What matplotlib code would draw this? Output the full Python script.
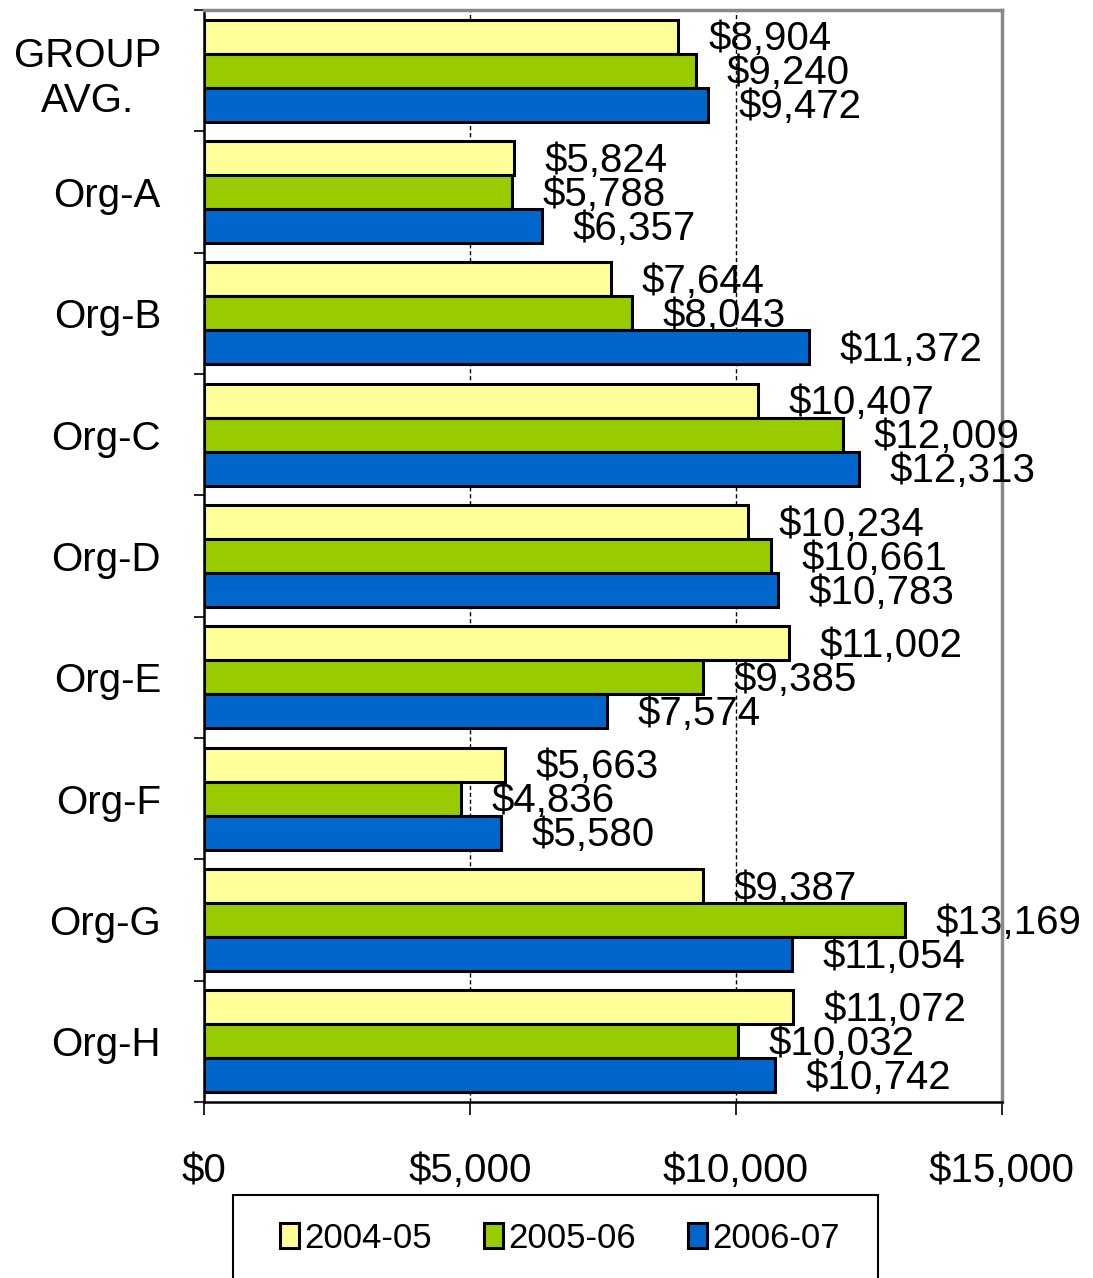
import numpy as np
import matplotlib.pyplot as plt
from matplotlib.patches import Rectangle, Patch
from matplotlib.ticker import FuncFormatter

plt.rcParams['font.family'] = ['Liberation Sans', 'DejaVu Sans']

# Data
orgs = ['GROUP\nAVG.', 'Org-A', 'Org-B', 'Org-C', 'Org-D', 'Org-E', 'Org-F', 'Org-G', 'Org-H']
years = ['2004-05', '2005-06', '2006-07']
y2004 = [8904, 5824, 7644, 10407, 10234, 11002, 5663, 9387, 11072]
y2005 = [9240, 5788, 8043, 12009, 10661, 9385, 4836, 13169, 10032]
y2006 = [9472, 6357, 11372, 12313, 10783, 7574, 5580, 11054, 10742]
colors = ['#FFFF99', '#99CC00', '#0066CC']

fig = plt.figure(figsize=(10.93, 12.78), dpi=100)
ax = fig.add_axes([0.1866, 0.1377, 0.7301, 0.8545])

pos = np.arange(len(orgs))
h = 0.28
for k, (vals, c) in enumerate(zip([y2004, y2005, y2006], colors)):
    offs = (k - 1) * h
    bars = ax.barh(pos + offs, vals, height=h, color=c, edgecolor='black',
                   linewidth=2.2, zorder=3)
    for b, v in zip(bars, vals):
        ax.annotate(f'${v:,}', (v, b.get_y() + b.get_height() / 2),
                    xytext=(22, -2), textcoords='offset points',
                    va='center', ha='left', fontsize=29, zorder=4)

ax.set_xlim(0, 15000)
ax.set_ylim(len(orgs) - 0.5, -0.5)
ax.set_xticks([0, 5000, 10000, 15000])
ax.xaxis.set_major_formatter(FuncFormatter(lambda x, p: f'${x:,.0f}'))
ax.tick_params(axis='x', direction='out', length=9, width=1.2, pad=27,
               labelsize=29)

ax.set_yticks(pos)
ax.set_yticklabels(orgs, multialignment='center', linespacing=1.25)
ax.set_yticks(np.arange(-0.5, len(orgs), 1), minor=True)
ax.tick_params(axis='y', which='major', length=0, pad=31, labelsize=29)
ax.tick_params(axis='y', which='minor', direction='out', length=7, width=1.2)

ax.xaxis.grid(True, linestyle=(0, (3, 2)), color='black', linewidth=1.0, zorder=0)
for side in ['top', 'right']:
    ax.spines[side].set_color('#888888')
    ax.spines[side].set_linewidth(2.5)
ax.spines['left'].set_linewidth(1.8)
ax.spines['bottom'].set_linewidth(1.8)

handles = [Patch(facecolor=c, edgecolor='black', linewidth=2.2) for c in colors]
fig.legend(handles, years, loc='center', bbox_to_anchor=(0.512, 1 - 1238 / 1278),
           ncol=3, frameon=False, fontsize=25, handlelength=0.55,
           handleheight=0.75, handletextpad=0.15, columnspacing=1.5)
fig.add_artist(Rectangle((233 / 1093, -0.05), 645 / 1093, 0.05 + 1 - 1195 / 1278,
                         transform=fig.transFigure, fill=False,
                         edgecolor='black', linewidth=1.5))

fig.savefig('out.png', dpi=100)
